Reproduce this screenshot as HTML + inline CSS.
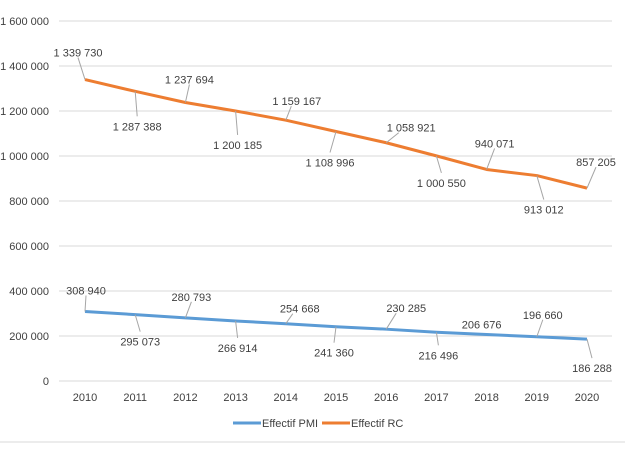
<!DOCTYPE html>
<html><head><meta charset="utf-8"><style>
body{margin:0;background:#fff;}
svg text{font-family:"Liberation Sans",sans-serif;font-size:11px;fill:#404040;}
</style></head><body>
<svg id="c" width="627" height="449"></svg>
<script>
const years=[2010,2011,2012,2013,2014,2015,2016,2017,2018,2019,2020];
const pmiValues=[308940,295073,280793,266914,254668,241360,230285,216496,206676,196660,186288];
const rcValues=[1339730,1287388,1237694,1200185,1159167,1108996,1058921,1000550,940071,913012,857205];
const yTicks=[0,200000,400000,600000,800000,1000000,1200000,1400000,1600000];
const seriesNames=["Effectif PMI","Effectif RC"];
// label layout offsets (not data)
const rcLabelDx=[-7,2,4,2,11,-6,25,5,8,7,9];
const rcLabelDy=[-27,35,-23,34,-19,31,-15,27,-26,34,-26];
const pmiLabelDx=[1,5,6,2,14,-2,20,2,-5,6,5];
const pmiLabelDy=[-21,27,-21,27,-15,26,-21,23,-10,-22,29];

const svg=document.getElementById('c');
const NS='http://www.w3.org/2000/svg';
const x=i=>85+i*50.2;
const y=v=>381-v/1600000*360;
const fmt=v=>String(v).replace(/\B(?=(\d{3})+(?!\d))/g,' ');
function mk(t,a){const e=document.createElementNS(NS,t);for(const k in a)e.setAttribute(k,a[k]);svg.appendChild(e);return e;}

yTicks.forEach(t=>{
  const g=mk('line',{x1:59,x2:612,y1:y(t),y2:y(t),stroke:'#d9d9d9','stroke-width':1});
  
  
  const l=mk('text',{x:49,y:y(t)+4,'text-anchor':'end'});l.textContent=fmt(t);
  
  
});
years.forEach((yr,i)=>{
  const l=mk('text',{x:x(i),y:401,'text-anchor':'middle'});l.textContent=yr;
  
  
});
function series(vals,color,dxs,dys,name){
  const p=mk('polyline',{points:vals.map((v,i)=>x(i)+','+y(v)).join(' '),fill:'none',stroke:color,'stroke-width':3,'stroke-linejoin':'round'});
  
  
  vals.forEach((v,i)=>{
    const px=x(i),py=y(v),lx=px+dxs[i],ly=py+dys[i];
    const ey=dys[i]<0?ly+5:ly-10;
    if(Math.abs(dys[i])>14){
      const ll=mk('line',{x1:px,y1:py,x2:lx+(dxs[i]>10?-dxs[i]*0.5:0),y2:ey,stroke:'#a6a6a6','stroke-width':1});
      
      
    }
    const t=mk('text',{x:lx,y:ly+4,'text-anchor':'middle'});t.textContent=fmt(v);
    
    
  });
}
series(rcValues,'#ed7d31',rcLabelDx,rcLabelDy,'rc');
series(pmiValues,'#5b9bd5',pmiLabelDx,pmiLabelDy,'pmi');

const legendColors=['#5b9bd5','#ed7d31'];
const legendX=[233,322];
seriesNames.forEach((n,i)=>{
  const l=mk('line',{x1:legendX[i],x2:legendX[i]+28,y1:423,y2:423,stroke:legendColors[i],'stroke-width':3});
  
  
  const t=mk('text',{x:legendX[i]+29,y:427});t.textContent=n;
  
  
});
const b=mk('line',{x1:0,x2:625,y1:442,y2:442,stroke:'#d9d9d9','stroke-width':1});


</script>
</body></html>
